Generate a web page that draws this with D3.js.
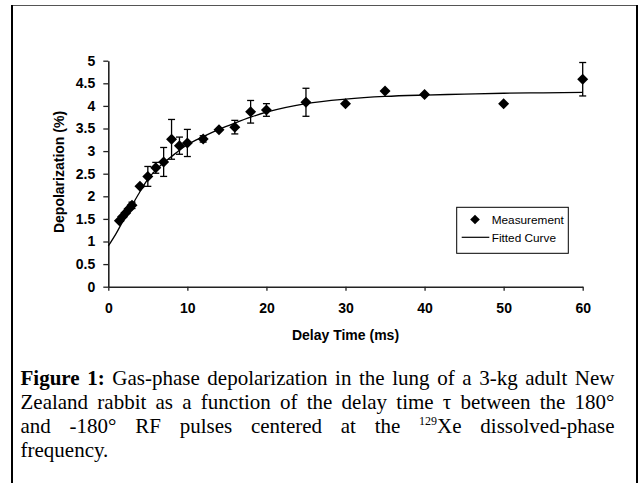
<!DOCTYPE html>
<html><head><meta charset="utf-8">
<script src="https://cdn.jsdelivr.net/npm/d3@7"></script>
<style>
html,body{margin:0;padding:0;background:#fff;}
svg{display:block;}
</style></head>
<body>
<svg id="c" width="642" height="483"></svg>
<script>
// ---- data ----
const delayTime = [1.4, 1.8, 2.2, 2.6, 3, 4, 5, 6, 7, 8, 9, 10, 12, 14, 16, 18, 20, 25, 30, 35, 40, 50, 60];
const depolarization = [1.46, 1.55, 1.63, 1.72, 1.80, 2.22, 2.44, 2.63, 2.76, 3.26, 3.12, 3.18, 3.27, 3.47, 3.53, 3.87, 3.91, 4.08, 4.05, 4.33, 4.25, 4.05, 4.59];
const errorHalf = [0, 0, 0, 0, 0.07, 0, 0.22, 0.12, 0.32, 0.44, 0.19, 0.30, 0.07, 0, 0.15, 0.25, 0.14, 0.31, 0, 0, 0, 0, 0.37];
const fitTime = [0, 1, 2, 3, 4, 5, 6, 7, 8, 9, 10, 12, 14, 16, 18, 20, 25, 30, 35, 40, 45, 50, 55, 60];
const fitValue = [0.90, 1.18, 1.50, 1.80, 2.10, 2.38, 2.58, 2.74, 2.88, 3.02, 3.14, 3.32, 3.48, 3.62, 3.75, 3.86, 4.05, 4.15, 4.21, 4.24, 4.26, 4.28, 4.29, 4.30];
const xTickValues = [0, 10, 20, 30, 40, 50, 60];
const yTickValues = [0, 0.5, 1, 1.5, 2, 2.5, 3, 3.5, 4, 4.5, 5];
const xTitle = "Delay Time (ms)";
const yTitle = "Depolarization (%)";
const legendLabels = ["Measurement", "Fitted Curve"];
const captionLines = [
  [[{t:"Figure", b:1}], [{t:"1:", b:1}], "Gas-phase", "depolarization", "in", "the", "lung", "of", "a", "3-kg", "adult", "New"],
  ["Zealand", "rabbit", "as", "a", "function", "of", "the", "delay", "time", "\u03c4", "between", "the", "180\u00b0"],
  ["and", "-180\u00b0", "RF", "pulses", "centered", "at", "the", [{t:"129", sup:1}, {t:"Xe"}], "dissolved-phase"],
  ["frequency."]
];

// ---- drawing ----
const svg = d3.select("#c");
const sans = "Arial, 'Liberation Sans', sans-serif";
const serif = "'Times New Roman', 'Liberation Serif', serif";
const axisFont = "14px";

// figure frame (open at bottom)
svg.append("line").attr("x1", 11).attr("x2", 638).attr("y1", 5.5).attr("y2", 5.5).attr("stroke", "#555").attr("stroke-width", 1);
svg.append("line").attr("x1", 12).attr("x2", 12).attr("y1", 5).attr("y2", 483).attr("stroke", "#000").attr("stroke-width", 2);
svg.append("line").attr("x1", 637).attr("x2", 637).attr("y1", 5).attr("y2", 483).attr("stroke", "#000").attr("stroke-width", 2);

const x = d3.scaleLinear().domain([0, 60]).range([108.3, 582.7]);
const y = d3.scaleLinear().domain([0, 5]).range([286.7, 60.7]);

const yAxis = svg.append("g").attr("transform", "translate(108.3,0)")
  .call(d3.axisLeft(y).tickValues(yTickValues).tickFormat(d => d).tickSize(5).tickSizeOuter(0).tickPadding(8));
const xAxis = svg.append("g").attr("transform", "translate(0,286.7)")
  .call(d3.axisBottom(x).tickValues(xTickValues).tickFormat(d => d).tickSize(4).tickSizeOuter(0).tickPadding(12.5));
[xAxis, yAxis].forEach(g => {
  g.select(".domain").attr("stroke", "#222").attr("stroke-width", 1.6);
  g.selectAll(".tick line").attr("stroke", "#222").attr("stroke-width", 1.3);
  g.selectAll(".tick text").attr("fill", "#000").style("font-family", sans).style("font-size", axisFont).style("font-weight", "bold");
});

svg.append("text").attr("x", 345.5).attr("y", 339.5).attr("text-anchor", "middle")
  .style("font-family", sans).style("font-size", axisFont).style("font-weight", "bold").text(xTitle);
svg.append("text").attr("transform", "translate(64,172) rotate(-90)").attr("text-anchor", "middle")
  .style("font-family", sans).style("font-size", axisFont).style("font-weight", "bold").text(yTitle);

// fitted curve
const fitData = fitTime.map((t, i) => [t, fitValue[i]]);
svg.append("path").datum(fitData)
  .attr("d", d3.line().x(d => x(d[0])).y(d => y(d[1])).curve(d3.curveMonotoneX))
  .attr("fill", "none").attr("stroke", "#000").attr("stroke-width", 1.3);

// measurement points + error bars
const pts = delayTime.map((t, i) => ({t, v: depolarization[i], e: errorHalf[i]}));
const eb = svg.append("g").attr("stroke", "#000").attr("stroke-width", 1.3);
pts.filter(d => d.e > 0).forEach(d => {
  const cx = x(d.t), y1 = y(d.v + d.e), y2 = y(d.v - d.e);
  eb.append("line").attr("x1", cx).attr("x2", cx).attr("y1", y1).attr("y2", y2);
  eb.append("line").attr("x1", cx - 3.5).attr("x2", cx + 3.5).attr("y1", y1).attr("y2", y1);
  eb.append("line").attr("x1", cx - 3.5).attr("x2", cx + 3.5).attr("y1", y2).attr("y2", y2);
});
const diamond = (cx, cy, r) => `M${cx},${cy - r}L${cx + r},${cy}L${cx},${cy + r}L${cx - r},${cy}Z`;
svg.append("g").selectAll("path").data(pts).join("path")
  .attr("d", d => diamond(x(d.t), y(d.v), 5.5)).attr("fill", "#000");

// legend
const lg = svg.append("g");
lg.append("rect").attr("x", 456.7).attr("y", 207.3).attr("width", 111.6).attr("height", 46).attr("fill", "#fff").attr("stroke", "#000").attr("stroke-width", 1);
lg.append("path").attr("d", diamond(475, 219.5, 4.8)).attr("fill", "#000");
lg.append("line").attr("x1", 461.7).attr("x2", 489.3).attr("y1", 237.3).attr("y2", 237.3).attr("stroke", "#000").attr("stroke-width", 1.2);
lg.selectAll("text").data(legendLabels).join("text")
  .attr("x", 491.7).attr("y", (d, i) => [223.5, 241.8][i])
  .style("font-family", sans).style("font-size", "11.8px").text(d => d);

// caption, justified lines
const capLeft = 20.5, capRight = 614.5, capSize = 21;
const baselines = [385.3, 409.3, 433.3, 457.3];
captionLines.forEach((words, li) => {
  const g = svg.append("g");
  const nodes = words.map(w => {
    const parts = typeof w === "string" ? [{t: w}] : w;
    const te = g.append("text").attr("y", baselines[li])
      .style("font-family", serif).style("font-size", capSize + "px").attr("fill", "#000");
    parts.forEach(p => {
      const ts = te.append("tspan").text(p.t);
      if (p.b) ts.style("font-weight", "bold");
      if (p.sup) ts.style("font-size", "12px").attr("dy", -8);
      else if (parts.some(q => q.sup)) ts.attr("dy", 8);
    });
    return te;
  });
  const widths = nodes.map(n => n.node().getComputedTextLength());
  const total = d3.sum(widths);
  const justify = li < captionLines.length - 1 && nodes.length > 1;
  const gap = justify ? (capRight - capLeft - total) / (nodes.length - 1) : capSize * 0.25;
  let cx = capLeft;
  nodes.forEach((n, i) => { n.attr("x", cx); cx += widths[i] + gap; });
});
</script>
</body></html>
